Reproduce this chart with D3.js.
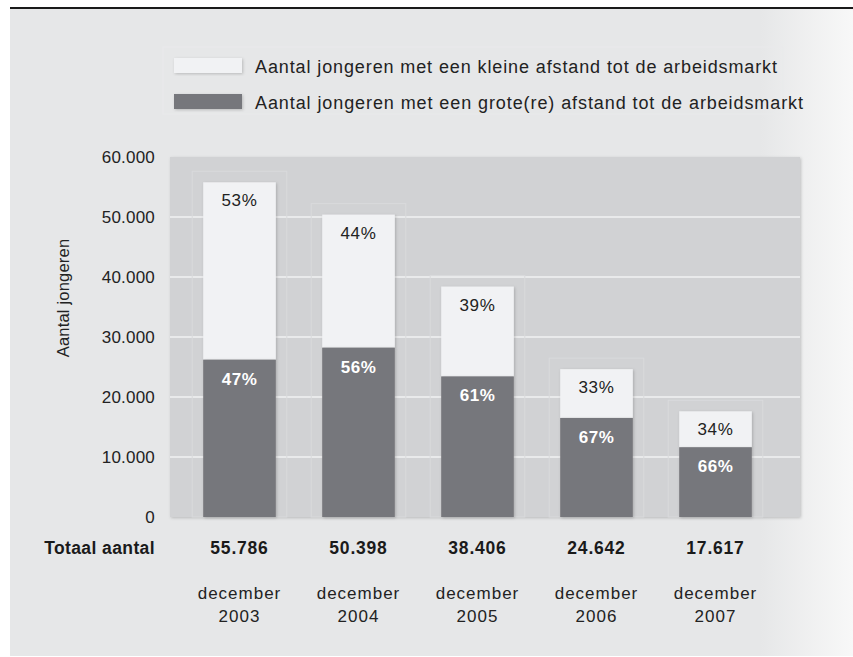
<!DOCTYPE html>
<html>
<head>
<meta charset="utf-8">
<script src="https://cdn.jsdelivr.net/npm/d3@7"></script>
<style>
  html, body { margin: 0; padding: 0; background: #fff; }
  svg { display: block; font-family: "Liberation Sans", Arial, sans-serif; }
</style>
</head>
<body>
<svg id="chart" width="853" height="657"></svg>
<script>
// data
const periods = ['december 2003', 'december 2004', 'december 2005', 'december 2006', 'december 2007'];
const totals = [55786, 50398, 38406, 24642, 17617];
const grootValues = [26219, 28223, 23428, 16510, 11627];
const kleinValues = [29567, 22175, 14978, 8132, 5990];
const kleinPct = ['53%', '44%', '39%', '33%', '34%'];
const grootPct = ['47%', '56%', '61%', '67%', '66%'];
const yTicks = [0, 10000, 20000, 30000, 40000, 50000, 60000];
const legendLabels = [
  'Aantal jongeren met een kleine afstand tot de arbeidsmarkt',
  'Aantal jongeren met een grote(re) afstand tot de arbeidsmarkt'
];

const W = 853, H = 657;
const plot = {left: 170, right: 800, top: 157, bottom: 517};
const lightCol = '#f1f2f4', darkCol = '#76777b';
const dotted = v => d3.format(',')(v).replace(/,/g, '.');

const svg = d3.select('#chart');
const defs = svg.append('defs');

const grad = defs.append('linearGradient').attr('id', 'bgfade')
  .attr('x1', '0%').attr('x2', '100%').attr('y1', '0%').attr('y2', '0%');
grad.append('stop').attr('offset', '89%').attr('stop-color', '#e6e7e8');
grad.append('stop').attr('offset', '100%').attr('stop-color', '#f8f8f8');

const shadow = defs.append('filter').attr('id', 'shadow')
  .attr('x', '-20%').attr('y', '-20%').attr('width', '140%').attr('height', '140%');
shadow.append('feDropShadow').attr('dx', 1).attr('dy', 1).attr('stdDeviation', 1.6)
  .attr('flood-color', '#000').attr('flood-opacity', 0.2);

// page background and top rule
svg.append('rect').attr('x', 10).attr('y', 9).attr('width', W - 10).attr('height', H - 10)
  .attr('fill', 'url(#bgfade)');
svg.append('line').attr('x1', 10).attr('x2', W).attr('y1', 8).attr('y2', 8)
  .attr('stroke', '#1a1a1a').attr('stroke-width', 2);

// legend
const legend = svg.append('g').attr('transform', 'translate(174,58)');
legend.append('rect').attr('x', -11).attr('y', -11).attr('width', 620).attr('height', 67)
  .attr('fill', 'none').attr('stroke', '#e9eaeb');
legendLabels.forEach((lab, i) => {
  const g = legend.append('g').attr('transform', `translate(0,${i * 36})`);
  g.append('rect').attr('width', 68).attr('height', 15)
    .attr('fill', i === 0 ? lightCol : darkCol).attr('filter', 'url(#shadow)');
  g.append('text').attr('x', 81).attr('y', 14.5).attr('font-size', 18).attr('fill', '#222')
    .attr('textLength', i === 0 ? 522 : 548).attr('lengthAdjust', 'spacing')
    .text(lab);
});

// scales
const x = d3.scaleBand().domain(periods).range([180, 775]).paddingInner(0.39).paddingOuter(0.195);
const y = d3.scaleLinear().domain([0, 60000]).range([plot.bottom, plot.top]);

// plot background
svg.append('rect').attr('x', plot.left).attr('y', plot.top)
  .attr('width', plot.right - plot.left).attr('height', plot.bottom - plot.top)
  .attr('fill', '#d1d2d4').attr('filter', 'url(#shadow)');

// gridlines
svg.append('g').selectAll('line').data(yTicks.filter(d => d > 0 && d < 60000)).join('line')
  .attr('x1', plot.left).attr('x2', plot.right)
  .attr('y1', d => y(d)).attr('y2', d => y(d))
  .attr('stroke', '#e9eaeb').attr('stroke-width', 2);

// y axis labels
const yAxis = svg.append('g').attr('transform', `translate(155,0)`)
  .call(d3.axisLeft(y).tickValues(yTicks).tickSize(0).tickPadding(0).tickFormat(dotted));
yAxis.select('.domain').remove();
yAxis.selectAll('text').attr('font-size', 17).attr('fill', '#222').attr('letter-spacing', 0.2)
  .attr('font-family', '"Liberation Sans", Arial, sans-serif');

svg.append('text').attr('transform', 'translate(69,298) rotate(-90)')
  .attr('text-anchor', 'middle').attr('font-size', 16.5).attr('fill', '#222')
  .attr('letter-spacing', 0.2).text('Aantal jongeren');

// faint ghost frames around bars
svg.append('g').selectAll('rect').data(periods).join('rect')
  .attr('x', d => x(d) - 11).attr('width', x.bandwidth() + 22)
  .attr('y', (d, i) => y(totals[i]) - 11)
  .attr('height', (d, i) => plot.bottom - y(totals[i]) + 11)
  .attr('fill', 'none').attr('stroke', '#d9dadc').attr('stroke-width', 1);

// bars
const bars = svg.append('g').selectAll('g').data(periods).join('g');
bars.append('rect')
  .attr('x', d => x(d)).attr('width', x.bandwidth())
  .attr('y', (d, i) => y(grootValues[i] + kleinValues[i]))
  .attr('height', (d, i) => y(grootValues[i]) - y(grootValues[i] + kleinValues[i]))
  .attr('fill', lightCol).attr('filter', 'url(#shadow)');
bars.append('rect')
  .attr('x', d => x(d)).attr('width', x.bandwidth())
  .attr('y', (d, i) => y(grootValues[i]))
  .attr('height', (d, i) => y(0) - y(grootValues[i]))
  .attr('fill', darkCol).attr('filter', 'url(#shadow)');

bars.append('text')
  .attr('x', d => x(d) + x.bandwidth() / 2)
  .attr('y', (d, i) => y(grootValues[i] + kleinValues[i]) + 24)
  .attr('text-anchor', 'middle').attr('font-size', 17).attr('letter-spacing', 0.7).attr('fill', '#222')
  .text((d, i) => kleinPct[i]);
bars.append('text')
  .attr('x', d => x(d) + x.bandwidth() / 2)
  .attr('y', (d, i) => y(grootValues[i]) + 25)
  .attr('text-anchor', 'middle').attr('font-size', 17).attr('letter-spacing', 0.5)
  .attr('font-weight', 'bold').attr('fill', '#fff')
  .text((d, i) => grootPct[i]);

// totals row
svg.append('text').attr('x', 155).attr('y', 554).attr('text-anchor', 'end')
  .attr('font-size', 17.5).attr('letter-spacing', 0.4).attr('font-weight', 'bold').attr('fill', '#1a1a1a')
  .text('Totaal aantal');
svg.append('g').selectAll('text').data(periods).join('text')
  .attr('x', d => x(d) + x.bandwidth() / 2).attr('y', 554)
  .attr('text-anchor', 'middle').attr('font-size', 17.5).attr('letter-spacing', 0.8)
  .attr('font-weight', 'bold').attr('fill', '#1a1a1a')
  .text((d, i) => dotted(totals[i]));

// category labels
const cats = svg.append('g').selectAll('text').data(periods).join('text')
  .attr('text-anchor', 'middle').attr('font-size', 17).attr('letter-spacing', 1).attr('fill', '#222');
cats.append('tspan').attr('x', d => x(d) + x.bandwidth() / 2).attr('y', 599)
  .text(d => d.split(' ')[0]);
cats.append('tspan').attr('x', d => x(d) + x.bandwidth() / 2).attr('y', 622)
  .text(d => d.split(' ')[1]);
</script>
</body>
</html>
